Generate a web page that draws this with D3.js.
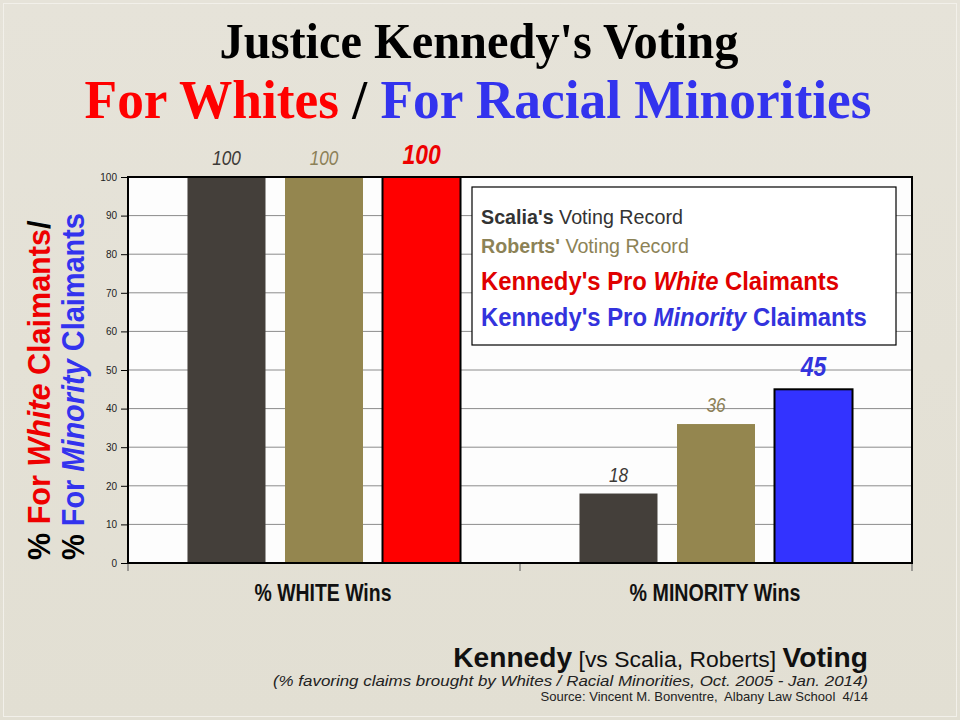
<!DOCTYPE html>
<html>
<head>
<meta charset="utf-8">
<script src="https://cdn.jsdelivr.net/npm/d3@7"></script>
<style>
  body { margin: 0; background: #e4e1d6; }
  svg { display: block; }
</style>
</head>
<body>
<div id="chart-area"></div>
<script>
// values
var categories = ["% WHITE Wins", "% MINORITY Wins"];
var justices = ["Scalia", "Roberts", "Kennedy"];
var scaliaValues = [100, 18];
var robertsValues = [100, 36];
var kennedyValues = [100, 45];
var yTicks = [0, 10, 20, 30, 40, 50, 60, 70, 80, 90, 100];

var W = 960, H = 720;
var margin = {top: 177, right: 48, bottom: 157, left: 128};
var width = W - margin.left - margin.right;
var height = H - margin.top - margin.bottom;

var sans = "'Liberation Sans', Arial, sans-serif";
var serif = "'Liberation Serif', 'Times New Roman', serif";

var rows = [];
categories.forEach(function (c, i) {
  rows.push({cat: c, idx: i, justice: "Scalia", value: scaliaValues[i]});
  rows.push({cat: c, idx: i, justice: "Roberts", value: robertsValues[i]});
  rows.push({cat: c, idx: i, justice: "Kennedy", value: kennedyValues[i]});
});

var kennedyColor = ["#ff0000", "#3333ff"];
var fillColor = function (d) {
  if (d.justice == "Scalia") return "#443f3a";
  if (d.justice == "Roberts") return "#94864f";
  return kennedyColor[d.idx];
};

var svg = d3.select("#chart-area").append("svg")
  .attr("width", W)
  .attr("height", H);

var defs = svg.append("defs");
var bg = defs.append("linearGradient").attr("id", "bg").attr("x1", 0).attr("y1", 0).attr("x2", 0).attr("y2", 1);
bg.append("stop").attr("offset", "0%").attr("stop-color", "#e6e3d9");
bg.append("stop").attr("offset", "100%").attr("stop-color", "#e2dfd3");

svg.append("rect").attr("width", W).attr("height", H).attr("fill", "url(#bg)");
svg.append("rect").attr("x", 3.5).attr("y", 3.5).attr("width", W - 7).attr("height", H - 7)
  .attr("fill", "none").attr("stroke", "#f2f0ea").attr("stroke-width", 1);

// squeeze a text horizontally to a measured width
function fit(sel, target) {
  var w = sel.node().getBBox().width;
  var t = sel.attr("transform") || "";
  sel.attr("transform", t + " scale(" + (target / w) + ",1)");
  return sel;
}

// title
var t1 = svg.append("text")
  .attr("transform", "translate(479,58)")
  .attr("text-anchor", "middle")
  .attr("font-family", serif)
  .attr("font-weight", "bold")
  .attr("font-size", 50)
  .attr("fill", "#000")
  .text("Justice Kennedy's Voting");
fit(t1, 519);

var t2 = svg.append("text")
  .attr("transform", "translate(478,118)")
  .attr("text-anchor", "middle")
  .attr("font-family", serif)
  .attr("font-weight", "bold")
  .attr("font-size", 54);
t2.append("tspan").attr("fill", "#ff0000").text("For Whites");
t2.append("tspan").attr("fill", "#000").text(" / ");
t2.append("tspan").attr("fill", "#3333ee").text("For Racial Minorities");
fit(t2, 787);

var g = svg.append("g")
  .attr("transform", "translate(" + margin.left + "," + margin.top + ")");

var x0 = d3.scaleBand().domain(categories).range([0, width]);
var x1 = d3.scaleBand().domain(justices).range([0, x0.bandwidth()])
  .paddingInner(0.2).paddingOuter(0.61);
var y = d3.scaleLinear().domain([0, 100]).range([height, 0]);

g.append("rect").attr("width", width).attr("height", height).attr("fill", "#fdfdfd");

// gridlines
g.append("g")
  .selectAll("line")
  .data(yTicks.filter(function (d) { return d > 0 && d < 100; }))
  .enter().append("line")
  .attr("x1", 0).attr("x2", width)
  .attr("y1", function (d) { return y(d); })
  .attr("y2", function (d) { return y(d); })
  .attr("stroke", "#8c8c8c")
  .attr("stroke-width", 1);

// y axis
var leftAxis = d3.axisLeft(y).tickValues(yTicks).tickSize(7).tickPadding(4);
var ya = g.append("g").attr("class", "left axis").call(leftAxis);
ya.select(".domain").remove();
ya.selectAll("line").attr("stroke", "#000");
ya.selectAll("text").attr("font-family", sans).attr("font-size", 10).attr("fill", "#222");

// bottom axis ticks at band edges
var edges = [0, x0.bandwidth(), width];
g.append("g").selectAll("line").data(edges).enter().append("line")
  .attr("x1", function (d) { return d; }).attr("x2", function (d) { return d; })
  .attr("y1", height).attr("y2", height + 8)
  .attr("stroke", "#555");

// bars
g.selectAll(".bar").data(rows).enter().append("rect")
  .attr("class", "bar")
  .attr("x", function (d) { return x0(d.cat) + x1(d.justice); })
  .attr("y", function (d) { return y(d.value); })
  .attr("width", x1.bandwidth())
  .attr("height", function (d) { return height - y(d.value); })
  .attr("fill", fillColor)
  .attr("stroke", function (d) { return d.justice == "Kennedy" ? "#000" : "none"; })
  .attr("stroke-width", 2);

// plot frame
g.append("rect").attr("width", width).attr("height", height)
  .attr("fill", "none").attr("stroke", "#000").attr("stroke-width", 2);

// value labels
g.selectAll(".val").data(rows).enter().append("text")
  .attr("class", "val")
  .attr("transform", function (d) {
    var cx = x0(d.cat) + x1(d.justice) + x1.bandwidth() / 2;
    var cy = y(d.value) - (d.justice == "Kennedy" ? 13 : 12);
    var k = d.justice == "Kennedy" ? 0.85 : 0.82;
    return "translate(" + cx + "," + cy + ") scale(" + k + ",1)";
  })
  .attr("text-anchor", "middle")
  .attr("font-family", sans)
  .attr("font-style", "italic")
  .attr("font-weight", function (d) { return d.justice == "Kennedy" ? "bold" : "normal"; })
  .attr("font-size", function (d) { return d.justice == "Kennedy" ? 27 : 21; })
  .attr("fill", function (d) {
    if (d.justice == "Scalia") return "#3d3a37";
    if (d.justice == "Roberts") return "#8c8057";
    return d.idx == 0 ? "#ee0000" : "#3333dd";
  })
  .text(function (d) { return d.value; });

// category labels
var catWidths = [137, 171];
categories.forEach(function (c, i) {
  var ct = g.append("text")
    .attr("transform", "translate(" + (x0(c) + x0.bandwidth() / 2 - 1) + "," + (height + 38) + ")")
    .attr("text-anchor", "middle")
    .attr("font-family", sans)
    .attr("font-weight", "bold")
    .attr("font-size", 23)
    .attr("fill", "#111")
    .text(c);
  fit(ct, catWidths[i]);
});

// legend box
svg.append("rect")
  .attr("x", 472).attr("y", 187).attr("width", 424).attr("height", 158)
  .attr("fill", "#fff").attr("stroke", "#000").attr("stroke-width", 1.2);

function legendLine(yPos, parts, size, target) {
  var t = svg.append("text")
    .attr("transform", "translate(481," + yPos + ")")
    .attr("font-family", sans)
    .attr("font-size", size);
  parts.forEach(function (p) {
    t.append("tspan")
      .attr("fill", p.color)
      .attr("font-weight", p.bold ? "bold" : "normal")
      .attr("font-style", p.italic ? "italic" : "normal")
      .text(p.text);
  });
  fit(t, target);
}
legendLine(224, [
  {text: "Scalia's", color: "#333", bold: true},
  {text: " Voting Record", color: "#333"}
], 21, 202);
legendLine(253, [
  {text: "Roberts'", color: "#8c8256", bold: true},
  {text: " Voting Record", color: "#8c8256"}
], 21, 208);
legendLine(290, [
  {text: "Kennedy's Pro ", color: "#e00000", bold: true},
  {text: "White", color: "#e00000", bold: true, italic: true},
  {text: " Claimants", color: "#e00000", bold: true}
], 26, 358);
legendLine(326, [
  {text: "Kennedy's Pro ", color: "#3333dd", bold: true},
  {text: "Minority", color: "#3333dd", bold: true, italic: true},
  {text: " Claimants", color: "#3333dd", bold: true}
], 26, 386);

// y axis title, two rotated lines
function yTitle(xPos, parts, target) {
  var t = svg.append("text")
    .attr("transform", "translate(" + xPos + ",560) rotate(-90)")
    .attr("font-family", sans)
    .attr("font-weight", "bold")
    .attr("font-size", 31);
  parts.forEach(function (p) {
    t.append("tspan").attr("fill", p.color)
      .attr("font-style", p.italic ? "italic" : "normal")
      .text(p.text);
  });
  fit(t, target);
}
yTitle(50, [
  {text: "% ", color: "#000"},
  {text: "For ", color: "#ee0000"},
  {text: "White", color: "#ee0000", italic: true},
  {text: " Claimants", color: "#ee0000"},
  {text: "/", color: "#000"}
], 340);
yTitle(84, [
  {text: "% ", color: "#000"},
  {text: "For ", color: "#3333ee"},
  {text: "Minority", color: "#3333ee", italic: true},
  {text: " Claimants", color: "#3333ee"}
], 347);

// footer
var f1 = svg.append("text")
  .attr("transform", "translate(868,667)")
  .attr("text-anchor", "end")
  .attr("font-family", sans)
  .attr("fill", "#111");
f1.append("tspan").attr("font-weight", "bold").attr("font-size", 27).text("Kennedy");
f1.append("tspan").attr("font-size", 22).text(" [vs Scalia, Roberts] ");
f1.append("tspan").attr("font-weight", "bold").attr("font-size", 27).text("Voting");
fit(f1, 415);

var f2 = svg.append("text")
  .attr("transform", "translate(868,686)")
  .attr("text-anchor", "end")
  .attr("font-family", sans)
  .attr("font-style", "italic")
  .attr("font-size", 14)
  .attr("fill", "#222")
  .text("(% favoring claims brought by Whites / Racial Minorities, Oct. 2005 - Jan. 2014)");
fit(f2, 596);

var f3 = svg.append("text")
  .attr("transform", "translate(868,701)")
  .attr("text-anchor", "end")
  .attr("font-family", sans)
  .attr("font-size", 12)
  .attr("fill", "#222")
  .attr("xml:space", "preserve")
  .text("Source: Vincent M. Bonventre,  Albany Law School  4/14");
fit(f3, 328);
</script>
</body>
</html>
